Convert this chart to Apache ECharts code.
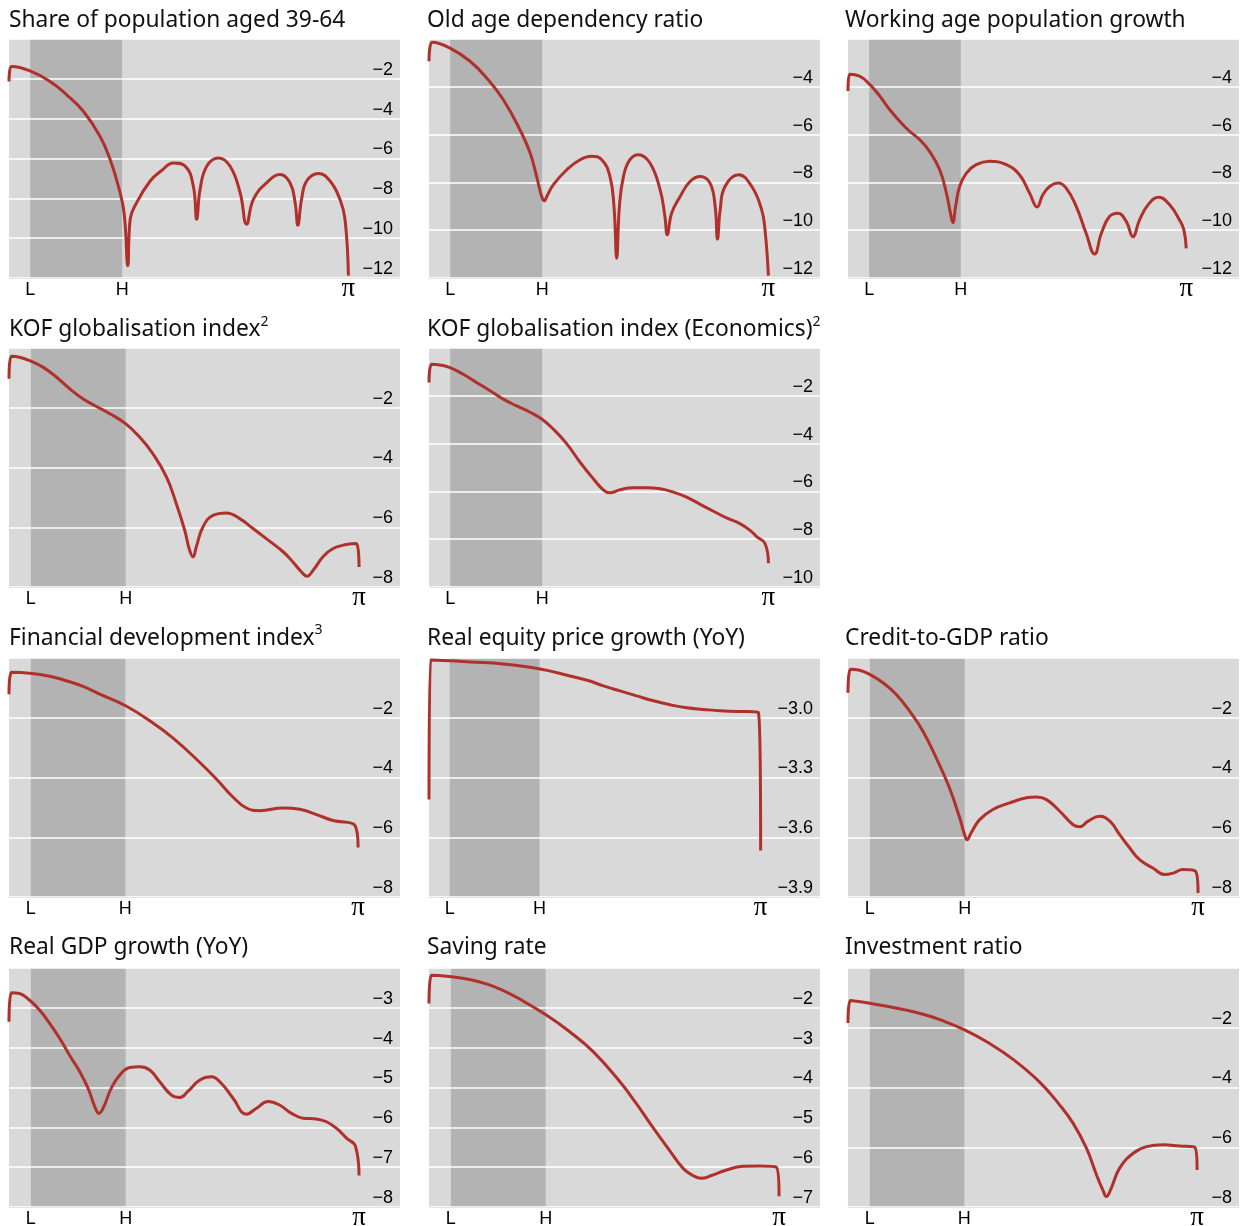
<!DOCTYPE html>
<html><head><meta charset="utf-8">
<script src="https://cdn.jsdelivr.net/npm/echarts@6/dist/echarts.min.js"></script>
<style>html,body{margin:0;padding:0;background:#fff}#c{width:1241px;height:1226px}</style>
</head><body><div id="c"></div><script>
// ---- x axis: normalized frequency (1 = pi); band between L and H ----
const xTickValues = [1/16, 1/3, 1];
const xTickLabels = ['L', 'H', 'π'];
const bandFrom = 1/16, bandTo = 1/3;

const titles = [
  'Share of population aged 39-64',
  'Old age dependency ratio',
  'Working age population growth',
  'KOF globalisation index',
  'KOF globalisation index (Economics)',
  'Financial development index',
  'Real equity price growth (YoY)',
  'Credit-to-GDP ratio',
  'Real GDP growth (YoY)',
  'Saving rate',
  'Investment ratio'
];
const titleSup = ['', '', '', '2', '2', '3', '', '', '', '', ''];

// ---- data (x: frequency / pi, y: value) ----
const shareX = [0,.008,.062,.121,.170,.219,.268,.298,.322,.339,.350,.357,.376,.416,.450,.484,.519,.543,.553,.563,.583,.617,.651,.681,.700,.720,.759,.799,.828,.843,.851,.862,.877,.912,.946,.975,.990,1.0];
const shareY = [-2.13,-1.38,-1.6,-2.13,-2.8,-3.63,-4.88,-6.05,-7.38,-8.72,-11.38,-9.05,-8.22,-7.13,-6.6,-6.22,-6.38,-7.38,-9.05,-7.55,-6.38,-5.97,-6.38,-7.72,-9.3,-8.05,-7.22,-6.8,-7.22,-8.22,-9.35,-8.05,-7.13,-6.75,-7.13,-8.05,-9.05,-11.88];

const oldAgeX = [0,.010,.062,.121,.170,.219,.268,.298,.317,.332,.340,.347,.366,.406,.445,.479,.509,.533,.545,.553,.561,.573,.592,.617,.651,.681,.695,.702,.715,.740,.769,.799,.828,.843,.850,.858,.872,.912,.951,.980,.990,1.0];
const oldAgeY = [-2.93,-2.14,-2.38,-2.93,-3.63,-4.54,-5.8,-6.77,-7.75,-8.59,-8.77,-8.59,-8.1,-7.47,-7.05,-6.91,-7.05,-7.75,-9.0,-11.17,-9.0,-7.75,-7.05,-6.84,-7.19,-8.31,-9.42,-10.19,-9.28,-8.59,-7.96,-7.75,-8.03,-9.0,-10.37,-9.14,-8.17,-7.68,-8.17,-9.14,-9.98,-11.9];

const workAgeX = [0,.005,.034,.064,.094,.123,.153,.182,.212,.241,.271,.291,.303,.310,.318,.330,.350,.379,.419,.468,.507,.537,.559,.576,.596,.621,.645,.675,.704,.729,.749,.773,.798,.823,.842,.862,.887,.919,.951,.980,.993,1.0];
const workAgeY = [-4.18,-3.48,-3.55,-3.9,-4.39,-4.95,-5.44,-5.86,-6.21,-6.7,-7.47,-8.45,-9.29,-9.68,-9.01,-8.17,-7.61,-7.26,-7.12,-7.26,-7.68,-8.45,-9.03,-8.52,-8.17,-8.03,-8.24,-9.01,-10.13,-11.0,-10.13,-9.43,-9.29,-9.64,-10.27,-9.57,-8.94,-8.62,-8.94,-9.57,-9.99,-10.76];

const kofX = [0,.007,.030,.059,.097,.135,.173,.211,.250,.288,.333,.373,.411,.450,.478,.502,.516,.526,.535,.554,.583,.621,.659,.697,.735,.783,.811,.835,.851,.869,.897,.926,.964,.992,1.0];
const kofY = [-1.03,-0.28,-0.31,-0.42,-0.64,-0.97,-1.36,-1.70,-1.96,-2.2,-2.53,-2.98,-3.54,-4.32,-5.21,-6.1,-6.77,-6.99,-6.66,-5.99,-5.6,-5.52,-5.71,-6.04,-6.38,-6.82,-7.16,-7.49,-7.64,-7.44,-6.99,-6.71,-6.58,-6.54,-7.33];

const kofEcoX = [0,.008,.032,.062,.101,.140,.180,.219,.258,.298,.332,.366,.406,.445,.484,.513,.533,.563,.602,.641,.681,.720,.759,.799,.838,.877,.916,.946,.966,.990,1.0];
const kofEcoY = [-1.44,-0.68,-0.71,-0.82,-1.10,-1.44,-1.79,-2.14,-2.42,-2.69,-2.97,-3.39,-4.01,-4.78,-5.47,-5.93,-6.06,-5.93,-5.85,-5.85,-5.89,-6.03,-6.24,-6.54,-6.83,-7.11,-7.35,-7.63,-7.9,-8.18,-9.01];

const finDevX = [0,.007,.059,.117,.164,.212,.260,.334,.403,.470,.546,.594,.642,.680,.718,.785,.833,.881,.928,.990,1.0];
const finDevY = [-1.21,-0.48,-0.51,-0.61,-0.76,-0.95,-1.21,-1.6,-2.1,-2.68,-3.49,-4.05,-4.66,-5.02,-5.11,-5.02,-5.06,-5.24,-5.44,-5.59,-6.34];

const equityX = [0,.005,.063,.124,.224,.335,.425,.477,.526,.576,.626,.677,.727,.777,.827,.878,.928,.993,1.0];
const equityY = [-3.41,-2.71,-2.714,-2.72,-2.73,-2.755,-2.79,-2.812,-2.84,-2.865,-2.89,-2.915,-2.935,-2.95,-2.958,-2.965,-2.968,-2.973,-3.667];

const creditX = [0,.007,.033,.062,.100,.138,.176,.214,.252,.290,.319,.333,.340,.352,.376,.414,.462,.510,.538,.567,.605,.643,.662,.686,.719,.748,.776,.805,.833,.871,.905,.929,.957,.993,1.0];
const creditY = [-1.16,-0.38,-0.41,-0.55,-0.83,-1.22,-1.78,-2.45,-3.34,-4.35,-5.35,-5.91,-6.08,-5.85,-5.41,-5.07,-4.85,-4.68,-4.65,-4.74,-5.13,-5.58,-5.65,-5.46,-5.3,-5.46,-5.91,-6.36,-6.75,-7.03,-7.25,-7.2,-7.08,-7.14,-7.87];

const gdpX = [0,.007,.030,.059,.088,.116,.145,.173,.202,.226,.245,.257,.269,.292,.316,.345,.373,.402,.430,.464,.488,.511,.545,.578,.607,.640,.678,.707,.740,.773,.807,.840,.878,.907,.935,.964,.990,1.0];
const gdpY = [-3.35,-2.62,-2.64,-2.81,-3.06,-3.39,-3.77,-4.19,-4.6,-5.02,-5.48,-5.65,-5.52,-5.02,-4.69,-4.5,-4.48,-4.56,-4.85,-5.19,-5.25,-5.1,-4.81,-4.73,-4.9,-5.27,-5.67,-5.52,-5.35,-5.44,-5.65,-5.77,-5.79,-5.86,-6.02,-6.27,-6.48,-7.21];

const savingX = [0,.007,.059,.116,.164,.211,.259,.333,.402,.469,.545,.592,.640,.688,.726,.754,.778,.807,.850,.897,.945,.992,1.0];
const savingY = [-1.89,-1.18,-1.215,-1.29,-1.40,-1.56,-1.78,-2.17,-2.6,-3.1,-3.85,-4.4,-5.01,-5.59,-6.03,-6.21,-6.28,-6.21,-6.07,-5.98,-5.97,-6.0,-6.73];

const investX = [0,.007,.062,.119,.167,.215,.263,.334,.406,.473,.549,.606,.645,.683,.712,.731,.740,.752,.778,.817,.855,.903,.950,.993,1.0];
const investY = [-1.84,-1.09,-1.18,-1.30,-1.41,-1.55,-1.73,-2.07,-2.53,-3.06,-3.82,-4.58,-5.2,-6.03,-6.93,-7.46,-7.65,-7.43,-6.7,-6.2,-5.98,-5.92,-5.96,-6.0,-6.76];

const seriesX = [shareX, oldAgeX, workAgeX, kofX, kofEcoX, finDevX, equityX, creditX, gdpX, savingX, investX];
const seriesY = [shareY, oldAgeY, workAgeY, kofY, kofEcoY, finDevY, equityY, creditY, gdpY, savingY, investY];

// y-axis tick setup per panel: [min, max, interval, decimals]
const yMin = [-12, -12, -12, -8, -10, -8, -3.9, -8, -8, -7, -8];
const yMax = [0, -2, -2, 0, 0, 0, -2.7, 0, -2, -1, 0];
const yStep = [2, 2, 2, 2, 2, 2, 0.3, 2, 1, 1, 2];
const yDec = [0, 0, 0, 0, 0, 0, 1, 0, 0, 0, 0];

// ---- layout (not data) ----
const panelRow = [0, 0, 0, 1, 1, 2, 2, 2, 3, 3, 3];
const panelCol = [0, 1, 2, 0, 1, 0, 1, 2, 0, 1, 2];
const colLeft = [9, 429, 848];
const rowTop = [39, 348, 658, 968];
const titleLeft = [9, 427, 845];
const titleTop = [6, 315, 623.5, 933];
const plotW = 391, plotH = 239;
const xMaxArr = [1.152, 1.152, 1.156, 1.117, 1.152, 1.12, 1.179, 1.117, 1.117, 1.117, 1.12];

const RED = '#b0302b';
const grids = [], xAxes = [], yAxes = [], series = [], titleArr = [];
for (let i = 0; i < titles.length; i++) {
  const r = panelRow[i], c = panelCol[i];
  grids.push({ left: colLeft[c], top: rowTop[r], width: plotW, height: plotH, containLabel: false,
    outerBoundsMode: 'none',
    show: true, backgroundColor: '#d9d9d9', borderWidth: 0, z: 0 });
  titleArr.push({
    text: titleSup[i] ? '{a|' + titles[i] + '}{s|' + titleSup[i] + '}' : '{a|' + titles[i] + '}',
    left: titleLeft[c], top: titleTop[r], padding: 0,
    textStyle: { fontWeight: 'normal', rich: {
      a: { fontFamily: 'Noto Sans', fontSize: 22.8, fontWeight: 'normal', color: '#111', lineHeight: 30 },
      s: { fontFamily: 'Noto Sans', fontSize: 14, fontWeight: 'normal', color: '#111', verticalAlign: 'top', lineHeight: 22 }
    } }
  });
  xAxes.push({ gridIndex: i, type: 'value', min: 0, max: xMaxArr[i], z: 2,
    axisLine: { show: true, onZero: false, lineStyle: { color: '#e4e4e4', width: 1 } },
    axisTick: { show: false }, splitLine: { show: false },
    axisLabel: { customValues: xTickValues, margin: 3, color: '#000', fontFamily: 'Liberation Sans', fontSize: 18,
      formatter: v => { const k = xTickValues.findIndex(t => Math.abs(t - v) < 1e-6); if (k < 0) return ''; return k === 2 ? '{p|π}' : xTickLabels[k]; },
      rich: { p: { fontFamily: 'Liberation Serif', fontSize: 27, lineHeight: 15, color: '#000' } } }
  });
  const mx = yMax[i], dec = yDec[i];
  yAxes.push({ gridIndex: i, type: 'value', position: 'right', min: yMin[i], max: yMax[i], interval: yStep[i], z: 2,
    axisLine: { show: false }, axisTick: { show: false },
    splitLine: { show: true, lineStyle: { color: '#ffffff', width: 1.5 } },
    axisLabel: { inside: true, margin: 7, verticalAlign: 'bottom', color: '#000', fontFamily: 'Liberation Sans', fontSize: 18,
      formatter: v => (Math.abs(v - mx) < 1e-6 ? '' : '\u2212' + Math.abs(v).toFixed(dec)) }
  });
  const pts = seriesX[i].map((x, k) => [x, seriesY[i][k]]);
  series.push({ type: 'line', xAxisIndex: i, yAxisIndex: i, data: pts, z: 1, silent: true,
    showSymbol: false, lineStyle: { width: 0, opacity: 0 },
    markArea: { silent: true, itemStyle: { color: '#b3b3b3' }, data: [[{ xAxis: bandFrom }, { xAxis: bandTo }]] } });
  series.push({ type: 'line', xAxisIndex: i, yAxisIndex: i, data: pts, z: 3,
    showSymbol: false, smooth: 0.45, lineStyle: { color: RED, width: 3 } });
}
const chart = echarts.init(document.getElementById('c'), null, { renderer: 'canvas' });
chart.setOption({ animation: false, backgroundColor: '#ffffff', title: titleArr, grid: grids, xAxis: xAxes, yAxis: yAxes, series: series });
</script></body></html>
